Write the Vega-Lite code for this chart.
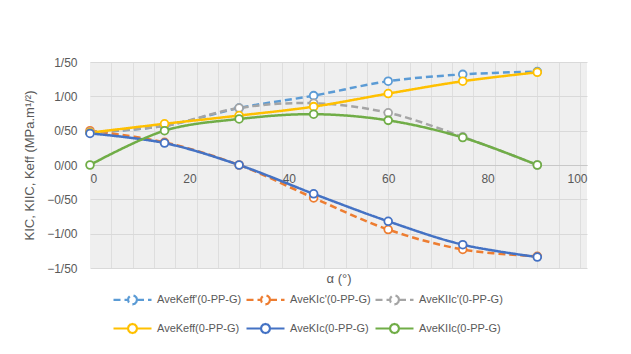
{
  "$schema": "https://vega.github.io/schema/vega-lite/v6.json",
  "width": 497,
  "height": 206,
  "autosize": {"type": "none"},
  "padding": {"left": 90, "top": 62, "right": 44, "bottom": 86},
  "background": "white",
  "config": {
    "font": "Liberation Sans",
    "view": {"fill": "#efefef", "stroke": null},
    "axis": {"labelColor": "#595959", "titleColor": "#595959", "labelFont": "Liberation Sans", "titleFont": "Liberation Sans", "titleFontWeight": "normal"}
  },
  "data": {
    "values": [
      {"a": 0, "v": 0.47, "s": "AveKeff'(0-PP-G)"},
      {"a": 15, "v": 0.57, "s": "AveKeff'(0-PP-G)"},
      {"a": 30, "v": 0.83, "s": "AveKeff'(0-PP-G)"},
      {"a": 45, "v": 1.01, "s": "AveKeff'(0-PP-G)"},
      {"a": 60, "v": 1.22, "s": "AveKeff'(0-PP-G)"},
      {"a": 75, "v": 1.32, "s": "AveKeff'(0-PP-G)"},
      {"a": 90, "v": 1.36, "s": "AveKeff'(0-PP-G)"},
      {"a": 0, "v": 0.50, "s": "AveKIc'(0-PP-G)"},
      {"a": 15, "v": 0.33, "s": "AveKIc'(0-PP-G)"},
      {"a": 30, "v": 0.00, "s": "AveKIc'(0-PP-G)"},
      {"a": 45, "v": -0.48, "s": "AveKIc'(0-PP-G)"},
      {"a": 60, "v": -0.94, "s": "AveKIc'(0-PP-G)"},
      {"a": 75, "v": -1.23, "s": "AveKIc'(0-PP-G)"},
      {"a": 90, "v": -1.33, "s": "AveKIc'(0-PP-G)"},
      {"a": 0, "v": 0.48, "s": "AveKIIc'(0-PP-G)"},
      {"a": 15, "v": 0.57, "s": "AveKIIc'(0-PP-G)"},
      {"a": 30, "v": 0.83, "s": "AveKIIc'(0-PP-G)"},
      {"a": 45, "v": 0.90, "s": "AveKIIc'(0-PP-G)"},
      {"a": 60, "v": 0.76, "s": "AveKIIc'(0-PP-G)"},
      {"a": 75, "v": 0.41, "s": "AveKIIc'(0-PP-G)"},
      {"a": 90, "v": 0.00, "s": "AveKIIc'(0-PP-G)"},
      {"a": 0, "v": 0.47, "s": "AveKeff(0-PP-G)"},
      {"a": 15, "v": 0.60, "s": "AveKeff(0-PP-G)"},
      {"a": 30, "v": 0.72, "s": "AveKeff(0-PP-G)"},
      {"a": 45, "v": 0.85, "s": "AveKeff(0-PP-G)"},
      {"a": 60, "v": 1.04, "s": "AveKeff(0-PP-G)"},
      {"a": 75, "v": 1.22, "s": "AveKeff(0-PP-G)"},
      {"a": 90, "v": 1.35, "s": "AveKeff(0-PP-G)"},
      {"a": 0, "v": 0.46, "s": "AveKIc(0-PP-G)"},
      {"a": 15, "v": 0.32, "s": "AveKIc(0-PP-G)"},
      {"a": 30, "v": 0.00, "s": "AveKIc(0-PP-G)"},
      {"a": 45, "v": -0.42, "s": "AveKIc(0-PP-G)"},
      {"a": 60, "v": -0.82, "s": "AveKIc(0-PP-G)"},
      {"a": 75, "v": -1.16, "s": "AveKIc(0-PP-G)"},
      {"a": 90, "v": -1.34, "s": "AveKIc(0-PP-G)"},
      {"a": 0, "v": 0.00, "s": "AveKIIc(0-PP-G)"},
      {"a": 15, "v": 0.50, "s": "AveKIIc(0-PP-G)"},
      {"a": 30, "v": 0.67, "s": "AveKIIc(0-PP-G)"},
      {"a": 45, "v": 0.74, "s": "AveKIIc(0-PP-G)"},
      {"a": 60, "v": 0.65, "s": "AveKIIc(0-PP-G)"},
      {"a": 75, "v": 0.40, "s": "AveKIIc(0-PP-G)"},
      {"a": 90, "v": 0.00, "s": "AveKIIc(0-PP-G)"}
    ]
  },
  "resolve": {"axis": {"x": "independent", "y": "independent"}},
  "layer": [
    {
      "mark": {"type": "line", "strokeWidth": 2.5, "interpolate": "catmull-rom"},
      "encoding": {
        "x": {
          "field": "a", "type": "quantitative",
          "scale": {"domain": [0, 100], "nice": false},
          "axis": {
            "orient": "bottom",
            "values": [0, 20, 40, 60, 80, 100],
            "offset": -103,
            "grid": false,
            "ticks": false,
            "domain": true,
            "domainColor": "#c8c8c8",
            "labelFontSize": 12,
            "labelPadding": 8,
            "title": "α (°)",
            "titleFontSize": 13,
            "titlePadding": 88
          }
        },
        "y": {
          "field": "v", "type": "quantitative",
          "scale": {"domain": [-1.5, 1.5], "nice": false},
          "axis": {
            "values": [-1.5, -1, -0.5, 0, 0.5, 1, 1.5],
            "labelExpr": "replace(format(datum.value, '.2f'), '.', '/')",
            "grid": true,
            "gridColor": "#d9d9d9",
            "gridWidth": 1,
            "ticks": false,
            "domain": false,
            "labelFontSize": 12,
            "labelPadding": 13,
            "title": "KIC, KIIC, Keff (MPa.m¹/²)",
            "titleFontSize": 13,
            "titlePadding": 10
          }
        },
        "color": {
          "field": "s", "type": "nominal",
          "scale": {
            "domain": ["AveKeff'(0-PP-G)", "AveKIc'(0-PP-G)", "AveKIIc'(0-PP-G)", "AveKeff(0-PP-G)", "AveKIc(0-PP-G)", "AveKIIc(0-PP-G)"],
            "range": ["#5B9BD5", "#ED7D31", "#A5A5A5", "#FFC000", "#4472C4", "#70AD47"]
          },
          "legend": {
            "title": null,
            "orient": "none",
            "direction": "horizontal",
            "legendX": 31,
            "legendY": 226,
            "columns": 3,
            "columnPadding": 0,
            "rowPadding": 8,
            "symbolType": "M-1.9,0H-0.45M0.45,0L0.39,0.225L0.225,0.39L0,0.45L-0.225,0.39L-0.39,0.225L-0.45,0L-0.39,-0.225L-0.225,-0.39L0,-0.45L0.225,-0.39L0.39,-0.225ZM0.45,0H1.9",
            "symbolSize": 400,
            "symbolStrokeWidth": 2.2,
            "symbolFillColor": "white",
            "labelOffset": 13,
            "labelFontSize": 11,
            "labelColor": "#595959",
            "labelFont": "Liberation Sans"
          }
        },
        "strokeDash": {
          "field": "s", "type": "nominal",
          "scale": {
            "domain": ["AveKeff'(0-PP-G)", "AveKIc'(0-PP-G)", "AveKIIc'(0-PP-G)", "AveKeff(0-PP-G)", "AveKIc(0-PP-G)", "AveKIIc(0-PP-G)"],
            "range": [[7, 4], [7, 4], [7, 4], [1, 0], [1, 0], [1, 0]]
          }
        },
        "order": {"field": "a", "type": "quantitative"}
      }
    },
    {
      "mark": {"type": "point", "shape": "circle", "filled": false, "fill": "white", "fillOpacity": 1, "size": 60, "strokeWidth": 1.8, "opacity": 1},
      "encoding": {
        "x": {"field": "a", "type": "quantitative", "axis": {"orient": "bottom", "values": [4.2857, 8.5714, 12.857, 17.143, 21.429, 25.714, 30, 34.286, 38.571, 42.857, 47.143, 51.429, 55.714, 60, 64.286, 68.571, 72.857, 77.143, 81.429, 85.714, 90, 94.286, 98.571], "grid": true, "gridColor": "#dedede", "labels": false, "ticks": false, "domain": false, "title": null}},
        "y": {"field": "v", "type": "quantitative", "axis": null},
        "stroke": {
          "field": "s", "type": "nominal",
          "scale": {
            "domain": ["AveKeff'(0-PP-G)", "AveKIc'(0-PP-G)", "AveKIIc'(0-PP-G)", "AveKeff(0-PP-G)", "AveKIc(0-PP-G)", "AveKIIc(0-PP-G)"],
            "range": ["#5B9BD5", "#ED7D31", "#A5A5A5", "#FFC000", "#4472C4", "#70AD47"]
          },
          "legend": null
        }
      }
    }
  ]
}
